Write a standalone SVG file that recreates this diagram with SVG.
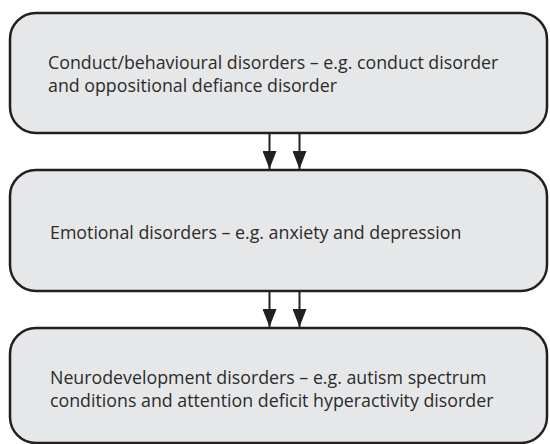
<svg xmlns="http://www.w3.org/2000/svg" width="550" height="444" viewBox="0 0 550 444">
<style>
.box{fill:#e6e7e8;stroke:#231f20;stroke-width:2.5}
.t{font-family:"Open Sans","Liberation Sans",sans-serif;font-size:17.8px;fill:#2b2b2b}
.c{stroke:#231f20;stroke-width:2;fill:none}
</style>
<defs>
<marker id="ah" markerWidth="18" markerHeight="14" refX="18" refY="7" orient="auto" markerUnits="userSpaceOnUse" viewBox="0 0 18 14">
<path d="M0,0 L18,7 L0,14 Z" fill="#231f20"/>
</marker>
</defs>
<rect width="550" height="444" fill="#ffffff"/>
<g id="connectors">
<line class="c" x1="269.5" y1="134" x2="269.5" y2="169" marker-end="url(#ah)"/>
<line class="c" x1="299.5" y1="134" x2="299.5" y2="169" marker-end="url(#ah)"/>
<line class="c" x1="269.5" y1="292" x2="269.5" y2="327" marker-end="url(#ah)"/>
<line class="c" x1="299.5" y1="292" x2="299.5" y2="327" marker-end="url(#ah)"/>
</g>
<g id="node1">
<rect class="box" x="10" y="13" width="537" height="120" rx="26" ry="26"/>
<text class="t" x="48" y="69">Conduct/behavioural disorders – e.g. conduct disorder</text>
<text class="t" x="48" y="92">and oppositional defiance disorder</text>
</g>
<g id="node2">
<rect class="box" x="10" y="170" width="537" height="121" rx="26" ry="26"/>
<text class="t" x="50" y="239">Emotional disorders – e.g. anxiety and depression</text>
</g>
<g id="node3">
<rect class="box" x="10" y="328" width="537" height="115" rx="26" ry="26"/>
<text class="t" x="50" y="384">Neurodevelopment disorders – e.g. autism spectrum</text>
<text class="t" x="50" y="407">conditions and attention deficit hyperactivity disorder</text>
</g>
</svg>
